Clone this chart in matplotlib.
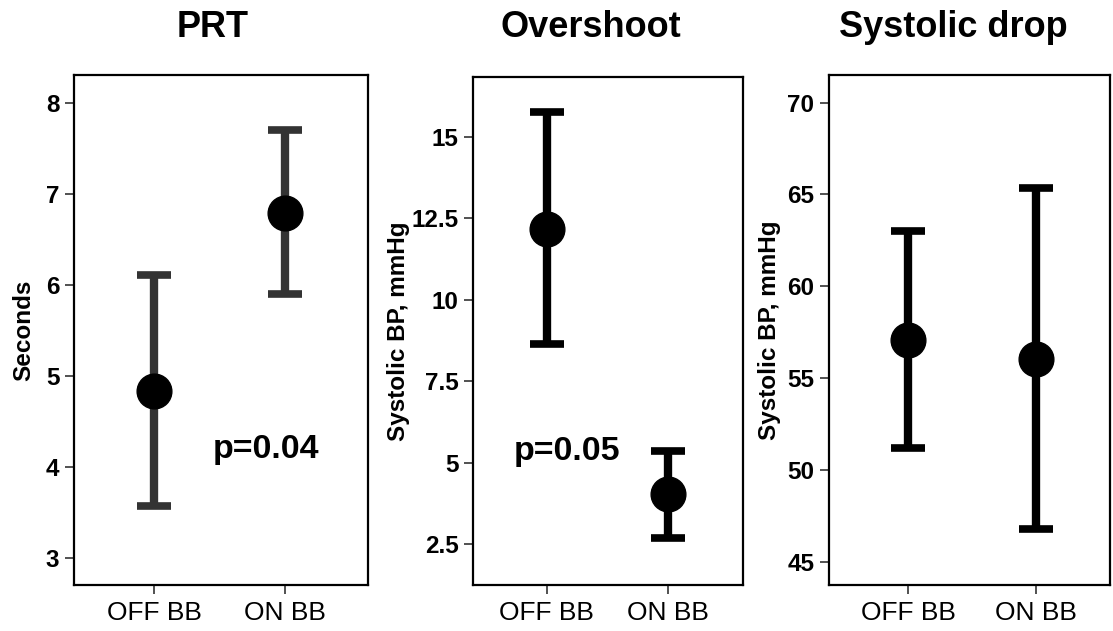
import numpy as np
import matplotlib.pyplot as plt

plt.rcParams['font.family'] = ['Liberation Sans', 'DejaVu Sans']

# Data
groups = ["OFF BB", "ON BB"]
x_pos = [1, 2]

prt_mean = [4.83, 6.79]
prt_low = [3.57, 5.90]
prt_high = [6.11, 7.71]

over_mean = [12.18, 4.03]
over_low = [8.64, 2.69]
over_high = [15.75, 5.36]

drop_mean = [57.1, 56.05]
drop_low = [51.22, 46.77]
drop_high = [63.01, 65.36]

titles = ["PRT", "Overshoot", "Systolic drop"]
ylabels = ["Seconds", "Systolic BP, mmHg", "Systolic BP, mmHg"]
p_texts = ["p=0.04", "p=0.05", None]

fig = plt.figure(figsize=(11.13, 6.31), dpi=100)

# axes rectangles measured in pixels (left, right, top, bottom)
boxes = [(74, 368, 75, 585), (473, 743, 77, 585), (829, 1110, 75, 585)]
W, H = 1113, 631

panels = [
    dict(mean=prt_mean, low=prt_low, high=prt_high, color="#333333",
         ylim=(2.7, 8.31), xlim=(0.39, 2.63), yticks=[3, 4, 5, 6, 7, 8],
         yticklabels=["3", "4", "5", "6", "7", "8"],
         label_x=-0.172, title_x=213, p_xy=(1.85, 4.1)),
    dict(mean=over_mean, low=over_low, high=over_high, color="black",
         ylim=(1.24, 16.84), xlim=(0.39, 2.62), yticks=[2.5, 5, 7.5, 10, 12.5, 15],
         yticklabels=["2.5", "5", "7.5", "10", "12.5", "15"],
         label_x=-0.275, title_x=591, p_xy=(1.165, 5.09)),
    dict(mean=drop_mean, low=drop_low, high=drop_high, color="black",
         ylim=(43.75, 71.5), xlim=(0.38, 2.58), yticks=[45, 50, 55, 60, 65, 70],
         yticklabels=["45", "50", "55", "60", "65", "70"],
         label_x=-0.21, title_x=953, p_xy=None),
]

for i, (pan, box) in enumerate(zip(panels, boxes)):
    l, r, t, b = box
    ax = fig.add_axes([l / W, (H - b) / H, (r - l) / W, (b - t) / H])
    mean = np.array(pan["mean"])
    err = [mean - np.array(pan["low"]), np.array(pan["high"]) - mean]
    ax.errorbar(x_pos, mean, yerr=err, fmt="none", ecolor=pan["color"],
                elinewidth=6, capsize=12.5, capthick=5.5, zorder=2)
    ax.plot(x_pos, mean, "o", color="black", markersize=25, zorder=3)

    ax.set_xlim(pan["xlim"])
    ax.set_ylim(pan["ylim"])
    ax.set_xticks(x_pos)
    ax.set_xticklabels(groups, fontsize=19)
    ax.set_yticks(pan["yticks"])
    ax.set_yticklabels(pan["yticklabels"], fontsize=17.5, fontweight="bold")
    ax.tick_params(axis="both", direction="out", length=6.5, width=1.2,
                   color="#333333")
    ax.tick_params(axis="y", pad=4)
    ax.tick_params(axis="x", pad=5)
    for sp in ax.spines.values():
        sp.set_linewidth(1.6)
        sp.set_color("black")

    ax.set_ylabel(ylabels[i], fontsize=17.5, fontweight="bold", va="center")
    ax.yaxis.set_label_coords(pan["label_x"], 0.5)

    if p_texts[i]:
        ax.text(pan["p_xy"][0], pan["p_xy"][1], p_texts[i], fontsize=24.5,
                fontweight="bold", ha="center", va="baseline")

    fig.text(pan["title_x"] / W, 1 - 37 / H, titles[i], fontsize=26,
             fontweight="bold", ha="center", va="baseline")

fig.savefig("out.png", dpi=100)
